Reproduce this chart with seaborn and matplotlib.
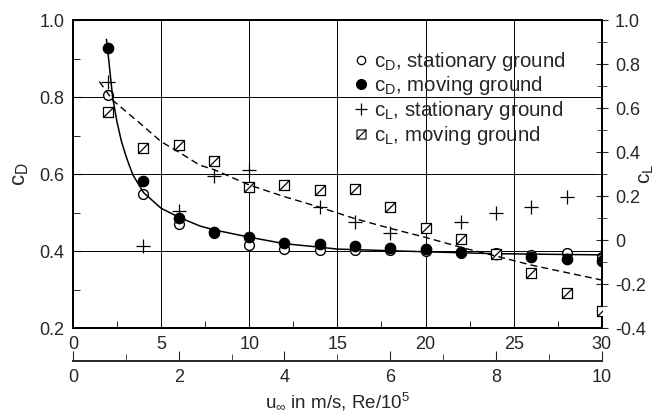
import numpy as np
import matplotlib
matplotlib.use("Agg")
import matplotlib.pyplot as plt
from matplotlib.path import Path
from matplotlib.lines import Line2D
from matplotlib.ticker import MultipleLocator, FixedLocator, FuncFormatter
import seaborn as sns

# measured points (top axis = Re/10^5)
x = [2, 4, 6, 8, 10, 12, 14, 16, 18, 20, 22, 24, 26, 28, 30]
cd_stat = [0.805, 0.548, 0.47, 0.447, 0.416, 0.404, 0.403, 0.403, 0.403, 0.401,
           0.394, 0.394, 0.39, 0.394, 0.385]
cd_mov = [0.928, 0.583, 0.485, 0.45, 0.436, 0.422, 0.417, 0.413, 0.409, 0.404,
          0.398, 0.393, 0.384, 0.378, 0.374]
cl_stat = [0.717, -0.027, 0.133, 0.29, 0.318, np.nan, 0.149, 0.083, 0.03, np.nan,
           0.083, 0.121, 0.149, 0.194, np.nan]
cl_mov = [0.583, 0.42, 0.432, 0.36, 0.242, 0.25, 0.228, 0.23, 0.149, 0.053,
          0.003, -0.064, -0.151, -0.242, -0.321]

# fitted curves
cd_fit_x = [1.9, 2.0, 2.25, 2.5, 2.75, 3.0, 3.2, 3.4, 4.0, 5.0, 6.0, 7.2, 8.0,
            10, 12, 14, 15, 20, 24, 30]
cd_fit_y = [0.95, 0.91, 0.80, 0.735, 0.685, 0.648, 0.622, 0.598, 0.552, 0.511,
            0.488, 0.465, 0.455, 0.436, 0.419, 0.41, 0.405, 0.398, 0.393, 0.39]
cl_fit_x = [1.5, 2.25, 3, 4, 5, 6, 7.2, 8, 10, 12, 14, 16, 18, 20, 22, 24, 26, 28, 30]
cl_fit_y = [0.72, 0.636, 0.585, 0.517, 0.447, 0.40, 0.34, 0.32, 0.25, 0.197,
            0.149, 0.097, 0.053, 0.012, -0.033, -0.073, -0.114, -0.148, -0.182]

u_ticks = [0, 2, 4, 6, 8, 10]

sns.set_style("ticks")
plt.rcParams['font.family'] = ['Liberation Sans', 'DejaVu Sans']
plt.rcParams['mathtext.default'] = 'regular'
plt.rcParams['axes.unicode_minus'] = False

fig = plt.figure(figsize=(6.57, 4.15), dpi=100)
ax = fig.add_axes([0.111, 0.2096, 0.805, 0.7422])
ax2 = ax.twinx()

# square with a diagonal
box = Path([(-1, -1), (1, -1), (1, 1), (-1, 1), (-1, -1), (-1, -1), (1, 1)],
           [Path.MOVETO, Path.LINETO, Path.LINETO, Path.LINETO, Path.CLOSEPOLY,
            Path.MOVETO, Path.LINETO])

sns.scatterplot(x=x, y=cd_stat, ax=ax, marker='o', s=50, facecolor='white',
                edgecolor='black', linewidth=1, zorder=3)
sns.scatterplot(x=x, y=cd_mov, ax=ax, marker='o', s=55, color='black',
                edgecolor='black', linewidth=1, zorder=4)
sns.lineplot(x=cd_fit_x, y=cd_fit_y, ax=ax, color='black', lw=1.1, zorder=5)

sns.scatterplot(x=x, y=cl_stat, ax=ax2, marker='+', s=100, color='black',
                linewidth=0.9, zorder=3)
sns.scatterplot(x=x, y=cl_mov, ax=ax2, marker=box, s=52, facecolor='white',
                edgecolor='black', linewidth=0.9, zorder=4)
sns.lineplot(x=cl_fit_x, y=cl_fit_y, ax=ax2, color='black', lw=1.0,
             linestyle=(0, (5, 3)), zorder=5)

ax.set_xlim(0, 30)
ax.set_ylim(0.2, 1.0)
ax2.set_ylim(-0.4, 1.0)

ax.xaxis.set_major_locator(MultipleLocator(5))
ax.xaxis.set_minor_locator(MultipleLocator(2.5))
ax.yaxis.set_major_locator(MultipleLocator(0.2))
ax.yaxis.set_minor_locator(MultipleLocator(0.1))
ax.yaxis.set_major_formatter(FuncFormatter(lambda v, p: f"{v:.1f}"))
ax2.yaxis.set_major_locator(MultipleLocator(0.2))
ax2.yaxis.set_minor_locator(MultipleLocator(0.1))
ax2.yaxis.set_major_formatter(
    FuncFormatter(lambda v, p: "0" if abs(v) < 1e-9 else f"{v:.1f}"))

ax.grid(True, which='major', color='black', lw=0.7)
ax.tick_params(axis='both', which='both', direction='in', labelsize=13,
               color='black', top=False, right=False)
ax.tick_params(axis='x', which='major', length=0, pad=6)
ax.tick_params(axis='x', which='minor', length=5)
ax.tick_params(axis='y', which='major', length=6, pad=6)
ax.tick_params(axis='y', which='minor', length=5)
ax2.tick_params(axis='y', which='both', direction='inout', labelsize=13, pad=5)
ax2.tick_params(axis='y', which='major', length=9)
ax2.tick_params(axis='y', which='minor', length=7)

for a in (ax, ax2):
    for s in a.spines.values():
        s.set_visible(True)
        s.set_linewidth(1.4)
        s.set_color('black')

# second scale: u_inf in m/s
sec = ax.secondary_xaxis(-33 / 308, functions=(lambda v: v / 3, lambda v: v * 3))
sec.xaxis.set_major_locator(FixedLocator(u_ticks))
sec.xaxis.set_minor_locator(FixedLocator([1, 3, 5, 7, 9]))
sec.tick_params(axis='x', which='both', direction='in', labelsize=13, pad=6)
sec.tick_params(axis='x', which='major', length=7)
sec.tick_params(axis='x', which='minor', length=5)
sec.spines['bottom'].set_linewidth(1.4)
sec.set_xlabel(r"u$_\infty$ in m/s, Re/10$^5$", fontsize=13.5, labelpad=3)

ax.set_ylabel(r"c$_D$", fontsize=16, labelpad=6)
ax2.set_ylabel(r"c$_L$", fontsize=15)
ax2.yaxis.set_label_coords(1.066, 0.5)

handles = [
    Line2D([], [], ls='none', marker='o', ms=6, mfc='white', mec='black', mew=0.9),
    Line2D([], [], ls='none', marker='o', ms=7, mfc='black', mec='black'),
    Line2D([], [], ls='none', marker='+', ms=8, mec='black', mew=0.9),
    Line2D([], [], ls='none', marker=box, ms=6.5, mfc='white', mec='black', mew=0.8),
]
labels = [r"c$_D$, stationary ground", r"c$_D$, moving ground",
          r"c$_L$, stationary ground", r"c$_L$, moving ground"]
ax2.legend(handles, labels, loc='upper left', bbox_to_anchor=(0.515, 0.93),
           frameon=False, fontsize=14.8, handlelength=0.7, handletextpad=0.3,
           labelspacing=0.08, borderaxespad=0)

fig.savefig("out.png", dpi=100)
